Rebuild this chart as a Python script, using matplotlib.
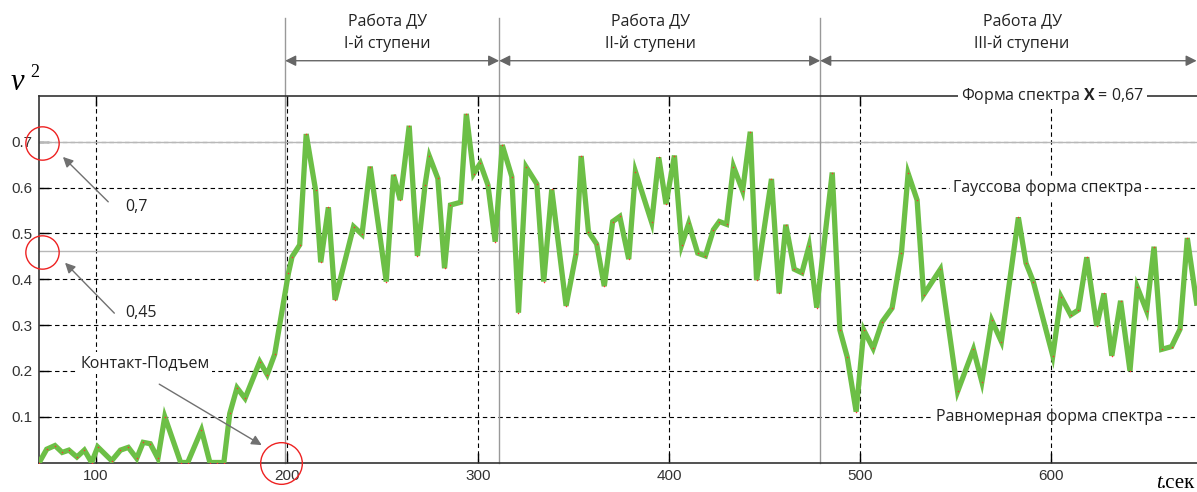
import matplotlib.pyplot as plt

plt.rcParams['mathtext.fontset'] = 'custom'
plt.rcParams['mathtext.rm'] = 'Open Sans'
plt.rcParams['mathtext.bf'] = 'Open Sans:bold'

# данные
t = [70.3, 74.2, 78.5, 82.3, 85.8, 90.0, 93.9, 97.7, 100.9, 108.2,
     112.8, 116.9, 121.3, 124.7, 128.4, 132.4, 136.0, 144.3, 148.0, 155.2,
     159.6, 163.3, 166.9, 170.0, 173.8, 178.0, 185.7, 189.6, 193.5, 200.7,
     202.6, 206.6, 210.0, 214.9, 217.6, 221.6, 225.1, 234.8, 239.2, 243.5,
     251.9, 255.7, 259.2, 263.9, 268.2, 272.2, 274.5, 278.9, 282.4, 285.5,
     290.8, 293.8, 297.6, 301.1, 305.1, 308.9, 312.6, 317.6, 321.1, 325.1,
     330.7, 334.3, 338.5, 346.0, 351.2, 353.9, 357.7, 362.0, 366.0, 370.4,
     374.1, 378.8, 382.3, 390.8, 394.5, 398.3, 402.7, 406.5, 410.2, 414.9,
     418.9, 423.1, 426.2, 430.0, 433.6, 438.4, 442.4, 445.7, 453.5, 457.5,
     461.0, 465.4, 469.4, 473.2, 477.2, 485.3, 489.3, 493.1, 497.8, 501.8,
     506.7, 511.4, 516.6, 521.5, 525.0, 529.7, 533.1, 541.9, 550.9, 559.2,
     563.6, 568.8, 573.8, 582.7, 586.7, 590.5, 600.7, 605.0, 610.1, 614.1,
     618.5, 623.7, 627.5, 631.6, 636.2, 641.1, 644.9, 649.8, 653.7, 657.7,
     662.9, 667.3, 671.1, 676.0]
nu2 = [0.0, 0.029, 0.037, 0.022, 0.027, 0.012, 0.027, 0.0, 0.034, 0.004,
       0.027, 0.033, 0.009, 0.044, 0.041, 0.009, 0.100, 0.0, 0.0, 0.071,
       0.0, 0.0, 0.0, 0.107, 0.163, 0.140, 0.220, 0.192, 0.236, 0.413,
       0.449, 0.475, 0.717, 0.595, 0.437, 0.557, 0.355, 0.515, 0.498, 0.646,
       0.395, 0.628, 0.573, 0.735, 0.451, 0.606, 0.668, 0.620, 0.424, 0.562,
       0.568, 0.761, 0.630, 0.653, 0.606, 0.482, 0.693, 0.624, 0.327, 0.645,
       0.608, 0.395, 0.596, 0.342, 0.455, 0.669, 0.504, 0.477, 0.385, 0.526,
       0.537, 0.444, 0.635, 0.524, 0.666, 0.564, 0.670, 0.475, 0.522, 0.457,
       0.451, 0.508, 0.526, 0.520, 0.646, 0.593, 0.722, 0.398, 0.619, 0.369,
       0.519, 0.422, 0.414, 0.473, 0.338, 0.633, 0.289, 0.231, 0.111, 0.289,
       0.249, 0.307, 0.337, 0.457, 0.631, 0.573, 0.366, 0.422, 0.155, 0.247,
       0.176, 0.310, 0.264, 0.535, 0.435, 0.395, 0.233, 0.362, 0.322, 0.333,
       0.448, 0.298, 0.369, 0.233, 0.353, 0.200, 0.383, 0.331, 0.471, 0.247,
       0.253, 0.291, 0.490, 0.348]

xticks = [100, 200, 300, 400, 500, 600]
yticks = [0.1, 0.2, 0.3, 0.4, 0.5, 0.6, 0.7]
ytick_labels = ['0.1', '0.2', '0.3', '0.4', '0.5', '0.6', '0.7']

# границы этапов работы ДУ
stages = [199, 311, 479, 676]
stage_labels = ['Работа ДУ\nI-й ступени', 'Работа ДУ\nII-й ступени',
                'Работа ДУ\nIII-й ступени']
ref_levels = [0.7, 0.4625]

fig = plt.figure(figsize=(11.97, 4.92), dpi=100)
ax = fig.add_axes([39 / 1197, 29.5 / 492, 1176 / 1197, 366.5 / 492])
ax.set_xlim(70.17, 685.6)
ax.set_ylim(0, 0.8)

ax.set_axisbelow(True)
ax.grid(True, color='black', linestyle=(0, (4, 3)), lw=0.8)
ax.set_xticks(xticks)
ax.set_yticks(yticks)
ax.set_yticklabels(ytick_labels)
ax.tick_params(direction='in', length=7, width=1, top=True, right=True,
               labelsize=11, labelcolor='#333333', pad=5)
for lab in ax.get_xticklabels() + ax.get_yticklabels():
    lab.set_family('Liberation Sans')
for s in ['left', 'bottom', 'top']:
    ax.spines[s].set_color('#333333')
    ax.spines[s].set_linewidth(1.2)

for lv in ref_levels:
    ax.axhline(lv, color='#b8b8b8', lw=1, zorder=1.5)

ax.plot(t, nu2, color='#6cbf46', lw=3.8, zorder=3, marker='o', markersize=1.1,
        markerfacecolor='#ff3030', markeredgecolor='none', solid_joinstyle='miter')

# вертикальные линии этапов
for xs in stages[:3]:
    ax.plot([xs, xs], [0, 0.97], color='#999999', lw=1, clip_on=False, zorder=2)

for i in range(3):
    ax.annotate('', xy=(stages[i + 1], 0.877), xytext=(stages[i], 0.877),
                xycoords='data', annotation_clip=False,
                arrowprops=dict(arrowstyle='<|-|>', color='#666666', lw=1,
                                mutation_scale=16, shrinkA=0, shrinkB=0))
    xc = [387, 650, 1022][i]
    ax.text(100 + (xc - 96) / 1.9107, 0.937, stage_labels[i], ha='center', va='center',
            fontsize=11.5, family='Open Sans', color='#222222', linespacing=1.45)

# красные круги
circ = dict(marker='o', markerfacecolor='none', markeredgecolor='#ee2222',
            clip_on=False, zorder=6, lw=0, markeredgewidth=1)
ax.plot([71.9], [0.698], markersize=24, **circ)
ax.plot([71.9], [0.460], markersize=24, **circ)
ax.plot([196.8], [0.0], markersize=30, **circ)

arr = dict(arrowstyle='-|>', color='#707070', lw=1, mutation_scale=15,
           shrinkA=0, shrinkB=0)
ax.annotate('', xy=(82.7, 0.667), xytext=(106.4, 0.569), arrowprops=arr)
ax.annotate('', xy=(83.8, 0.436), xytext=(109.6, 0.326), arrowprops=arr)
ax.annotate('', xy=(186.7, 0.038), xytext=(133.1, 0.171), arrowprops=arr)

txt = dict(fontsize=11.5, family='Open Sans', color='#222222', va='center')
ax.text(115.5, 0.558, '0,7', ha='left', **txt)
ax.text(115.5, 0.327, '0,45', ha='left', **txt)
wb = dict(facecolor='white', edgecolor='none', pad=2)
ax.text(125.6, 0.217, 'Контакт-Подъем', ha='center', bbox=wb, zorder=4, **txt)
ax.text(600.5, 0.8, r'Форма спектра $\mathbf{X}$ = 0,67', ha='center', bbox=wb, zorder=5, **txt)
ax.text(598, 0.6, 'Гауссова форма спектра', ha='center', bbox=wb, zorder=4, **txt)
ax.text(599, 0.1, 'Равномерная форма спектра', ha='center', bbox=wb, zorder=4, **txt)

# подписи осей
fig.text(17 / 1197, 1 - 90 / 492, 'ν', fontsize=22, family='Liberation Serif',
         style='italic', ha='center', va='baseline')
fig.text(35 / 1197, 1 - 77 / 492, '2', fontsize=13, family='Liberation Serif',
         ha='center', va='baseline')
fig.text(1156 / 1197, 1 - 488 / 492, 't', fontsize=15, family='Liberation Serif',
         style='italic', ha='left', va='baseline')
fig.text(1195 / 1197, 1 - 488 / 492, '.сек', fontsize=15, family='Liberation Serif',
         ha='right', va='baseline')

fig.savefig('out.png', dpi=100)
